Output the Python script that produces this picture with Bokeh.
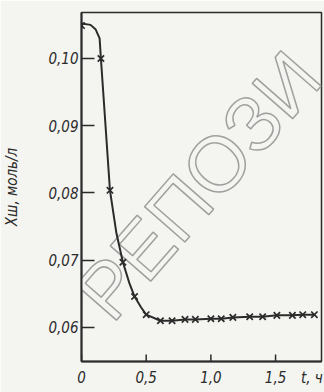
import math
from bokeh.plotting import figure
from bokeh.models import Label, FixedTicker, Range1d
from bokeh.embed import file_html
from bokeh.resources import INLINE

# data
cross_t = [0.0, 0.15, 0.22, 0.32, 0.41, 0.50, 0.61, 0.70, 0.80, 0.88, 1.00, 1.08, 1.17, 1.30, 1.40, 1.51, 1.63, 1.71, 1.80]
cross_x = [0.1049, 0.1000, 0.0804, 0.0697, 0.0646, 0.0619, 0.0610, 0.0610, 0.0612, 0.0612, 0.0613, 0.0613, 0.0615, 0.0616, 0.0616, 0.0618, 0.0618, 0.0619, 0.0619]
curve_t = [0.0, 0.07, 0.11, 0.14, 0.15, 0.22, 0.27, 0.32, 0.37, 0.41, 0.46, 0.50, 0.61, 0.70, 0.80, 0.88, 1.00, 1.08, 1.17, 1.30, 1.40, 1.51, 1.63, 1.71, 1.80]
curve_x = [0.1052, 0.1050, 0.1043, 0.1030, 0.1000, 0.0804, 0.0740, 0.0697, 0.0666, 0.0646, 0.0630, 0.0619, 0.0610, 0.0610, 0.0612, 0.0612, 0.0613, 0.0613, 0.0615, 0.0616, 0.0616, 0.0618, 0.0618, 0.0619, 0.0619]
x_ticks = [0, 0.5, 1.0, 1.5]
x_tick_labels = ["0", "0,5", "1,0", "1,5"]
x_title_pos = 1.78
x_title = "t, ч"
y_ticks = [0.06, 0.07, 0.08, 0.09, 0.10]
y_tick_labels = ["0,06", "0,07", "0,08", "0,09", "0,10"]
y_title = "Xш, моль/л"
watermark = "РЕПОЗИ"

INK = "#2b2b2b"
FONT = "DejaVu Sans Condensed"
BG = "#f4f4f0"

X0, X1 = 0.0, 1.855
Y0, Y1 = 0.05494, 0.10684

p = figure(width=324, height=392, output_backend="svg", toolbar_location=None,
           x_range=Range1d(X0, X1), y_range=Range1d(Y0, Y1),
           min_border_left=78, min_border_right=3, min_border_top=12, min_border_bottom=31)
p.background_fill_color = BG
p.border_fill_color = BG
p.outline_line_color = INK
p.outline_line_width = 1.5
p.grid.visible = False

# watermark of the scanned page
wm = Label(x=0.08, y=0.0630, text=watermark, angle=0.852, text_font="Liberation Sans",
           text_font_size="78px", text_color=BG, text_alpha=1.0,
           text_align="left", text_baseline="middle", level="underlay")
try:
    wm.text_outline_color = "#a0a0a0"
except Exception:
    wm.text_color = "#cfcfcf"
p.add_layout(wm)

p.line(curve_t, curve_x, line_color=INK, line_width=2)
p.scatter(cross_t, cross_x, marker="x", size=9, line_color=INK, line_width=1.7)

# inward x tick marks (only real ticks, not the axis title position)
tick_len = 7 / (349 / (Y1 - Y0))
p.segment(x0=x_ticks, y0=[Y0] * len(x_ticks), x1=x_ticks, y1=[Y0 + tick_len] * len(x_ticks),
          line_color=INK, line_width=1.5)

for ax in (p.xaxis, p.yaxis):
    ax.axis_line_color = INK
    ax.axis_line_width = 2
    ax.major_tick_line_color = INK
    ax.major_tick_line_width = 1.5
    ax.major_tick_out = 0
    ax.minor_tick_line_color = None
    ax.major_label_text_font = FONT
    ax.major_label_text_font_style = "italic"
    ax.major_label_text_font_size = "15px"
    ax.major_label_text_color = INK

p.xaxis.ticker = FixedTicker(ticks=x_ticks + [x_title_pos])
overrides = {t: s for t, s in zip(x_ticks, x_tick_labels)}
overrides[x_title_pos] = x_title
p.xaxis.major_label_overrides = overrides
p.xaxis.major_tick_in = 0
p.xaxis.major_label_standoff = 7

p.yaxis.ticker = FixedTicker(ticks=y_ticks)
p.yaxis.major_label_overrides = {t: s for t, s in zip(y_ticks, y_tick_labels)}
p.yaxis.major_tick_in = 13
p.yaxis.major_label_standoff = 3
p.yaxis.axis_label = y_title
p.yaxis.axis_label_text_font = FONT
p.yaxis.axis_label_text_font_style = "italic"
p.yaxis.axis_label_text_font_size = "15px"
p.yaxis.axis_label_text_color = INK
p.yaxis.axis_label_standoff = 24

open("out.html", "w").write(file_html(p, INLINE))
